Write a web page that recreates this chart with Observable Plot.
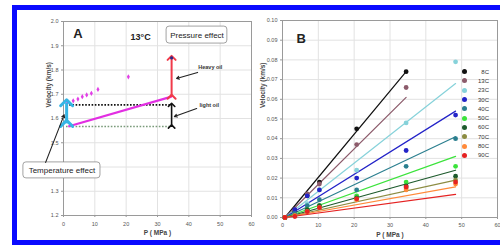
<!DOCTYPE html>
<html><head><meta charset="utf-8">
<script src="https://cdn.jsdelivr.net/npm/d3@7"></script>
<script src="https://cdn.jsdelivr.net/npm/@observablehq/plot@0.6"></script>
<style>
html,body{margin:0;padding:0;background:#fff;}
#wrap{position:relative;width:500px;height:245px;overflow:hidden;background:#fff;font-family:"Liberation Sans",Arial,sans-serif;}
#pa,#pb{position:absolute;top:0;}
#pa{left:0;} #pb{left:255px;}
#frame{position:absolute;left:12px;top:5px;width:520px;height:230px;border:5px solid #0a0aff;pointer-events:none;}
#legend{position:absolute;left:462px;top:67px;font-size:6px;color:#333;}
#legend .row{display:flex;align-items:center;height:9.3px;}
#legend .dot{width:5px;height:5px;border-radius:50%;display:inline-block;}
#legend .lab{width:22px;text-align:right;}
</style>
</head><body>
<div id="wrap"><div id="pa"></div><div id="pb"></div><div id="legend"></div><div id="frame"></div></div>
<script>
// ---------- Panel A data ----------
const xTicksA = [0, 10, 20, 30, 40, 50, 60];
const yGridA = [1.2, 1.3, 1.4, 1.5, 1.6, 1.7, 1.8, 1.9, 2.0];
const yLabelsA = [1.2, 1.3, 1.5, 1.6, 1.7, 1.8, 1.9, 2.0]; // 1.4 hidden behind the box
const magentaP = [1.2, 3.1, 4.6, 6.0, 7.4, 8.9, 11.0, 20.7];
const magentaV = [1.663, 1.673, 1.68, 1.69, 1.697, 1.704, 1.72, 1.772];
const topPointP = [34.5];
const topPointV = [1.85];
const trendP = [1.5, 34.5];
const trendV = [1.567, 1.69];
const refLevels = [1.656, 1.567];
const refColors = ["#111111", "#7a9a7a"];
const refStartP = [0.8, 0.8];
const refEndP = [34.5, 34.5];
// double-headed effect arrows: P, from, to, colour
const effP = [34.5, 34.5, 1.0];
const effFrom = [1.69, 1.567, 1.58];
const effTo = [1.85, 1.656, 1.665];
const effColor = ["#f03a4a", "#111111", "#35b5e5"];
const effWidth = [2, 1.6, 3];
// annotation texts
const titleText = ["A"];       const titleP = [4.6];  const titleV = [1.95];
const tempText = ["13°C"];     const tempP = [24.6];  const tempV = [1.934];
const boxText = ["Pressure effect", "Temperature effect"];
const boxTextP = [42.6, -0.5];
const boxTextV = [1.944, 1.386];
const oilText = ["Heavy oil", "light oil"];
const oilP = [43.0, 43.4];
const oilV = [1.81, 1.653];
// boxes (rounded)
const boxP1 = [32.9, -12.8], boxP2 = [52.3, 11.8];
const boxV1 = [1.909, 1.353], boxV2 = [1.979, 1.419];
// pointer arrows
const ptrP1 = [42.8, 42.5, -5.7], ptrP2 = [36.1, 35.4, 0.2];
const ptrV1 = [1.79, 1.641, 1.419], ptrV2 = [1.765, 1.608, 1.615];

// ---------- Panel B data ----------
const xTicksB = [0, 10, 20, 30, 40, 50, 60];
const yTicksB = [0, 0.01, 0.02, 0.03, 0.04, 0.05, 0.06, 0.07, 0.08, 0.09, 0.10];
const pressures = [0.69, 3.45, 6.9, 10.3, 20.7, 34.5, 48.3];
const seriesNames = ["8C", "13C", "23C", "30C", "40C", "50C", "60C", "70C", "80C", "90C"];
const seriesColors = ["#111111", "#8c5b6b", "#86d2da", "#2323c8", "#2b7f8f", "#3be33b", "#1d5a2c", "#8c8c42", "#ff8a3a", "#e52222"];
const v8C  = [0, 0.003, 0.011, 0.018, 0.045, 0.074, null];
const v13C = [0, 0.004, 0.012, 0.017, 0.037, 0.066, null];
const v23C = [0, 0.002, 0.007, 0.014, 0.024, 0.048, 0.079];
const v30C = [0, 0.004, 0.011, 0.014, 0.020, 0.034, 0.052];
const v40C = [0, 0.002, 0.006, 0.009, 0.014, 0.026, 0.040];
const v50C = [0, 0.001, 0.004, 0.006, 0.011, 0.018, 0.026];
const v60C = [0, 0.001, 0.004, 0.006, 0.010, 0.016, 0.021];
const v70C = [0, 0.001, 0.003, 0.005, 0.0095, 0.015, 0.019];
const v80C = [0, 0.001, 0.003, 0.005, 0.009, 0.014, 0.017];
const v90C = [0, 0.0005, 0.003, 0.005, 0.0095, 0.0155, 0.018];
const seriesValues = [v8C, v13C, v23C, v30C, v40C, v50C, v60C, v70C, v80C, v90C];
const fitStartP = 0.69;
const fitEndP = [34.5, 34.5, 48.3, 48.3, 48.3, 48.3, 48.3, 48.3, 48.3, 48.3];
const fitEndV = [0.074, 0.061, 0.068, 0.054, 0.041, 0.031, 0.024, 0.019, 0.0155, 0.0117];

const FONT = "'Liberation Sans', Arial, sans-serif";
const NARROW = "'Liberation Sans Narrow', 'Liberation Sans', Arial, sans-serif";

// ---------- Panel A ----------
const magenta = magentaP.map((P, i) => ({P, v: magentaV[i]}));
const refs = refLevels.map((v, i) => ({x1: refStartP[i], x2: refEndP[i], v, c: refColors[i]}));
const effs = effP.map((P, i) => ({P, a: effFrom[i], b: effTo[i], c: effColor[i], w: effWidth[i]}));
const boxes = boxP1.map((p, i) => ({x1: p, x2: boxP2[i], y1: boxV1[i], y2: boxV2[i]}));
const ptrs = ptrP1.map((p, i) => ({x1: p, x2: ptrP2[i], y1: ptrV1[i], y2: ptrV2[i]}));
const trend = [{x1: trendP[0], x2: trendP[1], y1: trendV[0], y2: trendV[1]}];
const tops = topPointP.map((P, i) => ({P, v: topPointV[i]}));

const plotA = Plot.plot({
  width: 255, height: 245,
  marginLeft: 63, marginRight: 4, marginTop: 21, marginBottom: 30,
  style: {background: "transparent", fontFamily: FONT, fontSize: "5.5px"},
  x: {domain: [0, 60]},
  y: {domain: [1.2, 2.0]},
  marks: [
    Plot.gridX(xTicksA, {stroke: "#e2e2e2", strokeOpacity: 1}),
    Plot.gridY(yGridA, {stroke: "#e2e2e2", strokeOpacity: 1}),
    Plot.frame({stroke: "#9a9a9a"}),
    Plot.axisX({ticks: xTicksA, tickSize: 2, tickPadding: 5, stroke: "#999", fill: "#555", label: null}),
    Plot.axisY({ticks: yLabelsA, tickSize: 2, tickPadding: 3, tickFormat: ".1f", stroke: "#999", fill: "#555", label: null}),
    Plot.text(["P ( MPa )"], {frameAnchor: "bottom", dy: 19, fontSize: 6.5, fontWeight: "bold", fill: "#444"}),
    Plot.text(["Velocity (km/s)"], {frameAnchor: "left", rotate: -90, dx: -15, dy: -11, fontSize: 6.5, fontWeight: "bold", fill: "#444"}),
    Plot.link(refs, {x1: "x1", x2: "x2", y1: "v", y2: "v", stroke: "c", strokeWidth: 1.6, strokeDasharray: "1.6,1.6"}),
    Plot.link(trend, {x1: "x1", x2: "x2", y1: "y1", y2: "y2", stroke: "#e22ee2", strokeWidth: 2.2}),
    Plot.dot(magenta, {x: "P", y: "v", r: 1.6, fill: "#e23ee6", symbol: "diamond"}),
    Plot.link(effs, {x1: "P", x2: "P", y1: "a", y2: "b", stroke: "c", strokeWidth: "w", markerStart: "arrow", markerEnd: "arrow"}),
    Plot.dot(tops, {x: "P", y: "v", r: 1.6, fill: "#2a2a8a"}),
    Plot.rect(boxes, {x1: "x1", x2: "x2", y1: "y1", y2: "y2", fill: "white", stroke: "#8a8a8a", strokeWidth: 0.8, rx: 3}),
    Plot.arrow(ptrs, {x1: "x1", y1: "y1", x2: "x2", y2: "y2", stroke: "#222", strokeWidth: 1.1, headLength: 4}),
    Plot.text(titleText, {x: (d, i) => titleP[i], y: (d, i) => titleV[i], fontSize: 13, fontWeight: "bold", fill: "#222"}),
    Plot.text(tempText, {x: (d, i) => tempP[i], y: (d, i) => tempV[i], fontSize: 9, fontWeight: "bold", fill: "#222", fontFamily: NARROW}),
    Plot.text(boxText, {x: (d, i) => boxTextP[i], y: (d, i) => boxTextV[i], fontSize: 8, fill: "#222", fontFamily: NARROW}),
    Plot.text(oilText, {x: (d, i) => oilP[i], y: (d, i) => oilV[i], fontSize: 5.5, fontWeight: "bold", textAnchor: "start", fill: "#333", fontFamily: NARROW})
  ]
});
document.getElementById("pa").appendChild(plotA);

// ---------- Panel B ----------
const rows = [];
seriesNames.forEach((s, k) => pressures.forEach((P, i) => {
  const v = seriesValues[k][i];
  if (v !== null) rows.push({s, P, v});
}));
const fits = [];
seriesNames.forEach((s, k) => {
  fits.push({s, P: fitStartP, v: 0});
  fits.push({s, P: fitEndP[k], v: fitEndV[k]});
});

const plotB = Plot.plot({
  width: 245, height: 245,
  marginLeft: 27, marginRight: 3, marginTop: 20, marginBottom: 28,
  style: {background: "transparent", fontFamily: FONT, fontSize: "5.5px"},
  x: {domain: [0, 60]},
  y: {domain: [0, 0.10]},
  color: {domain: seriesNames, range: seriesColors},
  marks: [
    Plot.gridX(xTicksB, {stroke: "#e2e2e2", strokeOpacity: 1}),
    Plot.gridY(yTicksB, {stroke: "#e2e2e2", strokeOpacity: 1}),
    Plot.frame({stroke: "#9a9a9a"}),
    Plot.axisX({ticks: xTicksB, tickSize: 2, tickPadding: 4, stroke: "#999", fill: "#555", label: null}),
    Plot.axisY({ticks: yTicksB, tickSize: 2, tickPadding: 3, tickFormat: ".2f", stroke: "#999", fill: "#555", label: null}),
    Plot.text(["P ( MPa )"], {frameAnchor: "bottom", dy: 19, fontSize: 6.5, fontWeight: "bold", fill: "#444"}),
    Plot.text(["Velocity (km/s)"], {frameAnchor: "left", rotate: -90, dx: -20, dy: -11, fontSize: 6.5, fontWeight: "bold", fill: "#444"}),
    Plot.line(fits, {x: "P", y: "v", z: "s", stroke: "s", strokeWidth: 1.2}),
    Plot.dot(rows, {x: "P", y: "v", fill: "s", r: 2.4}),
    Plot.text(["B"], {frameAnchor: "top-left", dx: 14, dy: 13, fontSize: 13, fontWeight: "bold", fill: "#222"})
  ]
});
document.getElementById("pb").appendChild(plotB);

// legend
const lg = document.getElementById("legend");
seriesNames.forEach((s, k) => {
  const r = document.createElement("div");
  r.className = "row";
  r.innerHTML = `<span class="dot" style="background:${seriesColors[k]}"></span><span class="lab">${s}</span>`;
  lg.appendChild(r);
});
</script>
</body></html>
